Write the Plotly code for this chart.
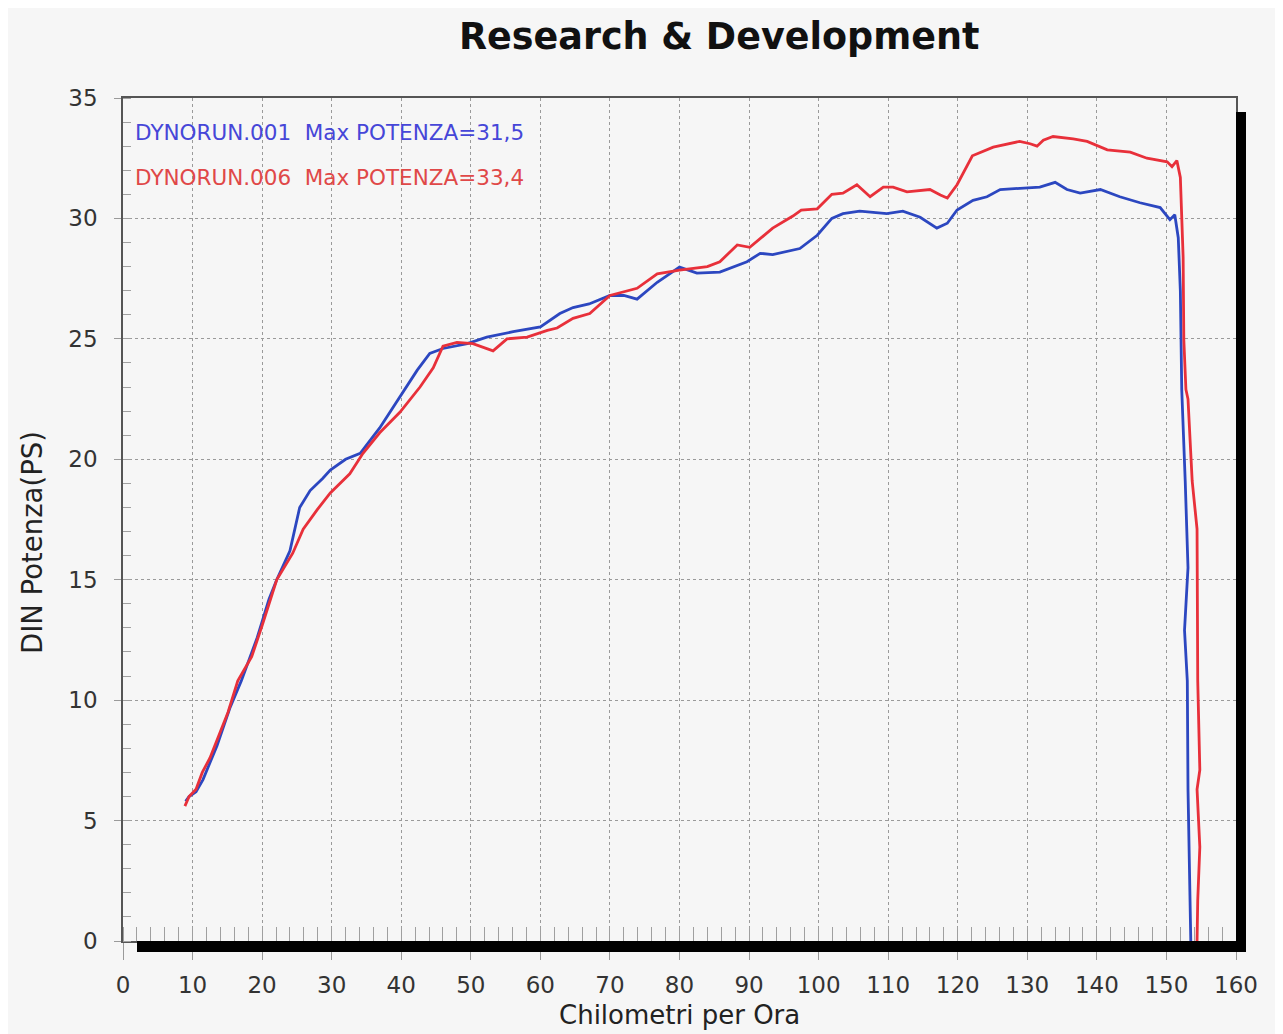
import plotly.graph_objects as go

# ---------------- data ----------------
blue_x = [9.0, 9.5, 10.5, 11.5, 12.5, 13.5, 15.4, 17.0, 19.3, 21.0, 22.1, 24.0, 25.4, 26.9, 28.7, 29.8,
          32.0, 34.1, 36.9, 39.8, 42.3, 44.1, 46.0, 49.5, 52.3, 56.1, 60.0, 62.8, 64.7, 67.0, 70.0, 72.0,
          73.9, 76.8, 80.0, 82.5, 85.8, 89.7, 91.6, 93.4, 97.3, 99.8, 101.9, 103.5, 105.9, 109.8, 112.1,
          114.6, 117.0, 118.5, 119.9, 122.2, 124.2, 126.1, 129.4, 131.8, 134.0, 135.7, 137.6, 140.5, 143.3,
          146.2, 149.1, 150.5, 151.2, 151.7, 152.0, 152.2, 152.7, 153.1, 152.6, 153.0, 153.1, 153.4, 153.5]
blue_y = [5.8, 6.0, 6.2, 6.7, 7.4, 8.1, 9.7, 10.8, 12.6, 14.2, 15.0, 16.2, 18.0, 18.7, 19.2, 19.55,
          20.0, 20.25, 21.3, 22.6, 23.7, 24.4, 24.6, 24.8, 25.07, 25.3, 25.5, 26.05, 26.3, 26.45, 26.8, 26.8,
          26.65, 27.35, 27.98, 27.73, 27.77, 28.2, 28.55, 28.5, 28.75, 29.3, 30.0, 30.2, 30.3, 30.2, 30.3,
          30.05, 29.6, 29.8, 30.35, 30.75, 30.9, 31.2, 31.25, 31.3, 31.5, 31.2, 31.05, 31.2, 30.9,
          30.65, 30.45, 29.95, 30.15, 29.2, 27.0, 22.9, 19.1, 15.5, 12.9, 10.8, 6.3, 2.1, 0.0]

red_x = [8.9, 9.5, 10.5, 11.4, 12.5, 13.5, 15.1, 16.5, 18.5, 20.0, 22.1, 24.4, 25.9, 27.9, 29.8, 32.6,
         34.5, 36.9, 39.8, 42.7, 44.6, 46.0, 48.0, 50.3, 53.2, 55.2, 58.1, 61.0, 62.4, 64.7, 67.1, 70.0,
         73.9, 76.8, 80.0, 84.0, 85.8, 88.3, 90.1, 93.4, 96.3, 97.5, 99.8, 101.9, 103.5, 105.5, 107.4,
         109.3, 110.7, 112.7, 116.0, 117.5, 118.5, 119.9, 122.1, 125.1, 128.9, 130.4, 131.4, 132.3, 133.7,
         136.6, 138.6, 141.5, 144.8, 147.2, 150.1, 150.8, 151.5, 152.0, 152.2, 152.4, 152.5, 152.8, 153.1,
         153.7, 154.4, 154.4, 154.5, 154.8, 154.4, 154.8, 154.5, 154.4]
red_y = [5.6, 6.0, 6.3, 7.0, 7.6, 8.3, 9.5, 10.8, 11.8, 13.1, 15.0, 16.1, 17.1, 17.9, 18.6, 19.4,
         20.25, 21.1, 21.95, 23.0, 23.8, 24.7, 24.85, 24.8, 24.5, 25.0, 25.07, 25.35, 25.45, 25.85, 26.05, 26.8,
         27.1, 27.7, 27.85, 28.0, 28.2, 28.9, 28.8, 29.6, 30.1, 30.35, 30.4, 31.0, 31.05, 31.4, 30.9,
         31.3, 31.3, 31.1, 31.2, 30.97, 30.85, 31.4, 32.6, 32.96, 33.2, 33.1, 33.0, 33.25, 33.4,
         33.3, 33.2, 32.85, 32.75, 32.5, 32.35, 32.15, 32.4, 31.7, 29.9, 28.4, 24.95, 22.9, 22.5,
         19.1, 17.1, 15.5, 10.8, 7.1, 6.3, 3.9, 1.7, 0.0]

x_ticks = [0, 10, 20, 30, 40, 50, 60, 70, 80, 90, 100, 110, 120, 130, 140, 150, 160]
y_ticks = [0, 5, 10, 15, 20, 25, 30, 35]

legend_labels = ["DYNORUN.001  Max POTENZA=31,5", "DYNORUN.006  Max POTENZA=33,4"]
title_text = "Research & Development"
x_title = "Chilometri per Ora"
y_title = "DIN Potenza(PS)"

# ---------------- layout geometry ----------------
OFF = 8  # page body margin in the browser
W, H = 1283 - OFF, 1034 - OFF
L, R, T, B = 123 - OFF, 1236 - OFF, 98 - OFF, 941 - OFF
PW, PH = R - L, B - T


def px(xp):  # reference-screenshot x pixel -> paper
    return (xp - OFF - L) / PW


def py(yp):  # reference-screenshot y pixel -> paper
    return (B - (yp - OFF)) / PH


BLUE = "#2c47c0"
RED = "#e8303a"
BG = "#f6f6f6"
FONT = "DejaVu Sans, Liberation Sans, Arial, sans-serif"

fig = go.Figure()
fig.add_trace(go.Scatter(x=blue_x, y=blue_y, mode="lines",
                         line=dict(color=BLUE, width=2.8), showlegend=False))
fig.add_trace(go.Scatter(x=red_x, y=red_y, mode="lines",
                         line=dict(color=RED, width=2.8), showlegend=False))

fig.update_layout(
    width=W, height=H,
    margin=dict(l=L, r=W - R, t=T, b=H - B, pad=0),
    paper_bgcolor=BG, plot_bgcolor=BG,
    font=dict(family=FONT, color="#333333", size=20),
    showlegend=False,
)

fig.update_xaxes(
    range=[0, 160], tickvals=x_ticks, ticktext=[str(v) for v in x_ticks],
    showgrid=True, gridcolor="#9a9a9a", griddash="dot", gridwidth=1,
    zeroline=False, showline=True, linecolor="#555555", linewidth=1.5, mirror=True,
    ticks="outside", ticklen=17, tickcolor="#9a9a9a", tickwidth=1,
    ticklabelstandoff=6,
    tickfont=dict(size=23, color="#333333"),
    minor=dict(dtick=2, ticks="inside", ticklen=14, tickcolor="#a0a0a0", showgrid=False),
)
fig.update_yaxes(
    range=[0, 35], tickvals=y_ticks, ticktext=[str(v) for v in y_ticks],
    showgrid=True, gridcolor="#9a9a9a", griddash="dot", gridwidth=1,
    zeroline=False, showline=True, linecolor="#555555", linewidth=1.5, mirror=True,
    ticks="outside", ticklen=7, tickcolor="#9a9a9a", tickwidth=1,
    ticklabelstandoff=12,
    tickfont=dict(size=23, color="#333333"),
    minor=dict(dtick=1, ticks="inside", ticklen=8, tickcolor="#a0a0a0", showgrid=False),
)

# black drop-shadow bars (bottom and right)
fig.add_shape(type="rect", xref="paper", yref="paper",
              x0=px(137), x1=px(1246), y0=py(941), y1=py(952),
              fillcolor="black", line=dict(width=0), layer="above")
fig.add_shape(type="rect", xref="paper", yref="paper",
              x0=px(1236), x1=px(1246), y0=py(112), y1=py(952),
              fillcolor="black", line=dict(width=0), layer="above")

# title
fig.add_annotation(text="<b>" + title_text + "</b>", xref="paper", yref="paper",
                   x=px(719), y=py(36), xanchor="center", yanchor="middle",
                   showarrow=False, font=dict(size=36.5, color="#111111", family=FONT))
# axis titles
fig.add_annotation(text=x_title, xref="paper", yref="paper",
                   x=px(679), y=py(1015), xanchor="center", yanchor="middle",
                   showarrow=False, font=dict(size=26, color="#222222", family=FONT))
fig.add_annotation(text=y_title, xref="paper", yref="paper",
                   x=px(32), y=py(543), xanchor="center", yanchor="middle", textangle=-90,
                   showarrow=False, font=dict(size=27.5, color="#222222", family=FONT))
# legend texts
fig.add_annotation(text=legend_labels[0], xref="paper", yref="paper",
                   x=px(133), y=py(133), xanchor="left", yanchor="middle",
                   showarrow=False, font=dict(size=21.5, color="#4646d8", family=FONT))
fig.add_annotation(text=legend_labels[1], xref="paper", yref="paper",
                   x=px(133), y=py(177), xanchor="left", yanchor="middle",
                   showarrow=False, font=dict(size=21.5, color="#e04848", family=FONT))

fig.write_html("out.html")
